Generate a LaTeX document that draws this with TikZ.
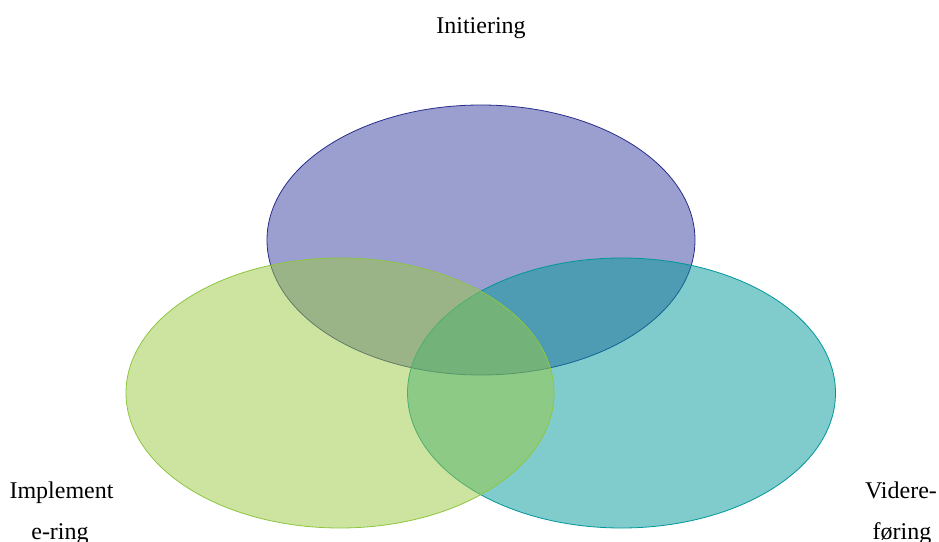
\documentclass[tikz,border=0pt]{standalone}
\usepackage{fontspec}
\setmainfont{Liberation Serif}
\definecolor{topfill}{RGB}{53,63,161}
\definecolor{topline}{RGB}{40,45,140}
\definecolor{leftfill}{RGB}{155,201,65}
\definecolor{leftline}{RGB}{141,198,63}
\definecolor{rightfill}{RGB}{1,153,153}
\definecolor{rightline}{RGB}{0,150,155}
\tikzset{
  lbl/.style={font=\fontsize{24bp}{41bp}\selectfont, anchor=base, inner sep=0pt},
  setshape/.style={fill opacity=0.5, line width=0.8bp}
}
\begin{document}
\begin{tikzpicture}[x=1bp,y=-1bp]
\useasboundingbox (0,0) rectangle (939,542);
% sets, drawn in order: top, right, left
\draw[setshape, fill=topfill, draw=topline] (481,240) ellipse [x radius=214, y radius=135];
\draw[setshape, fill=rightfill, draw=rightline] (621.5,393) ellipse [x radius=214, y radius=135];
\draw[setshape, fill=leftfill, draw=leftline] (340,393) ellipse [x radius=214, y radius=135];
% labels
\node[lbl] (init) at (481,34) {Initiering};
\node[lbl] (impl1) at (61.5,498) {Implement};
\node[lbl] (impl2) at (60,539) {e-ring};
\node[lbl] (vid1) at (901,498) {Videre-};
\node[lbl] (vid2) at (902,539) {føring};
\end{tikzpicture}
\end{document}
